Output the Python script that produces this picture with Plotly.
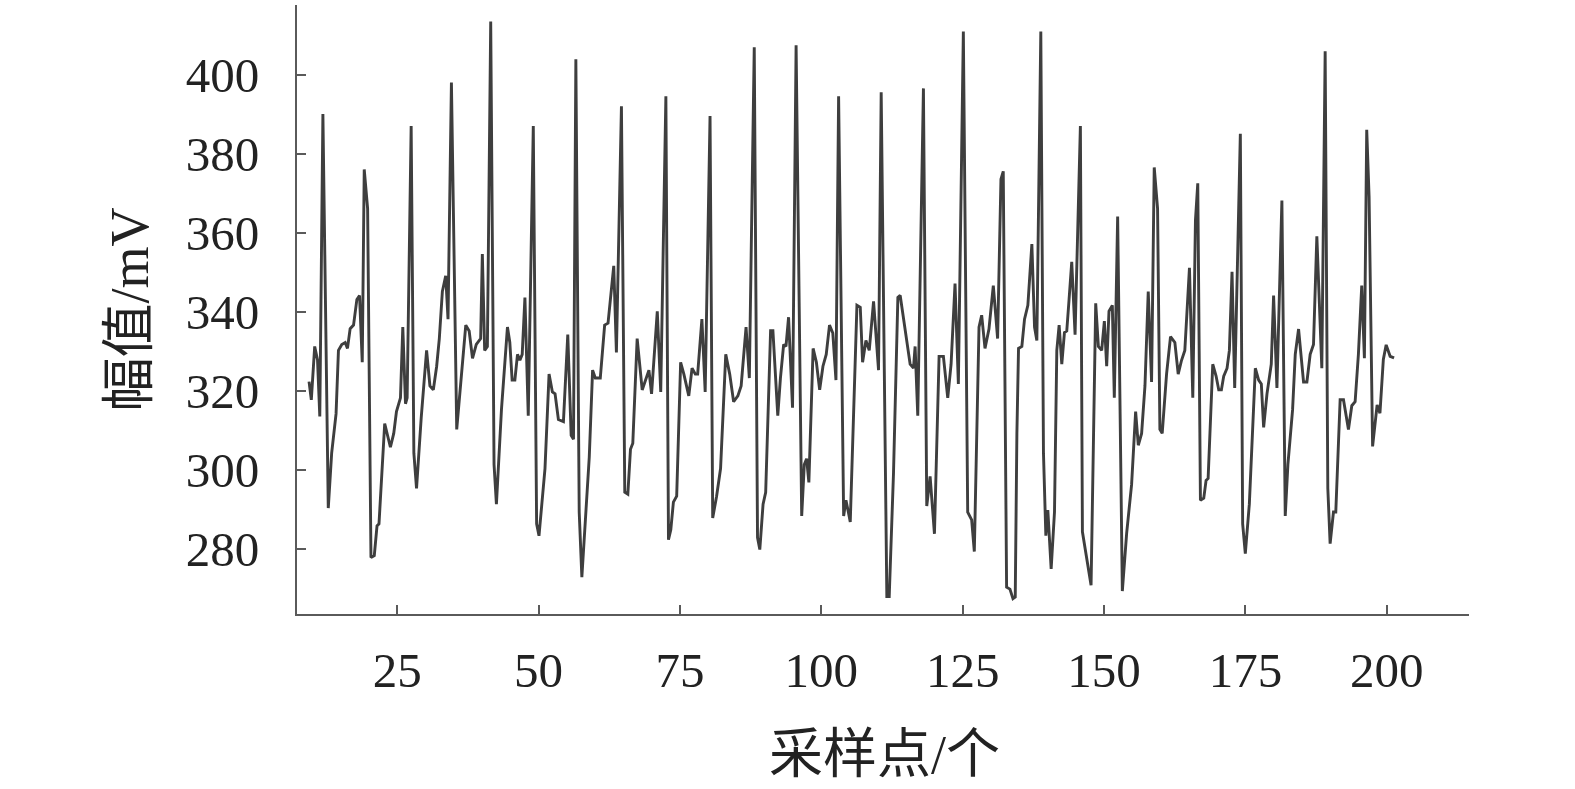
import plotly.graph_objects as go

# Sample index (x) and amplitude in mV (y)
sample_x = [
    9.4, 9.8, 10.4, 10.9, 11.3, 11.85, 12.8, 13.4, 14.18, 14.6, 15.19, 15.79, 16.2, 16.67, 17.27,
    17.86, 18.33, 18.81, 19.16, 19.76, 20.35, 20.94, 21.42, 21.77, 22.78, 23.79, 24.38, 24.86,
    25.57, 25.98, 26.46, 26.75, 27.46, 27.94, 28.41, 29.24, 30.19, 30.78, 31.38, 31.97, 32.44,
    32.98, 33.57, 33.98, 34.58, 35.52, 35.94, 37.12, 37.72, 38.31,
    38.98, 39.75, 40.05, 40.46, 40.94, 41.53, 42.12, 42.54, 43.43, 44.49, 44.91, 45.32, 45.8,
    46.27, 46.69, 47.1, 47.58, 48.17, 49.06, 49.65, 50.07, 51.13, 51.85, 52.44, 52.91, 53.5,
    54.39, 55.16, 55.76, 56.17, 56.59, 57.18, 57.65, 58.13, 58.96, 59.55, 60.03, 60.91, 61.68,
    62.28, 63.29, 63.76, 64.65, 65.24, 65.78, 66.25, 66.66, 67.43, 68.32, 68.92, 69.51, 69.98,
    70.99,
    71.6, 72.51, 72.97, 73.38, 73.84, 74.42, 75.12, 75.69, 76.56, 77.14, 77.72, 78.13, 78.88,
    79.46, 80.32, 80.79, 81.48, 82.18, 83.1, 83.8, 84.49, 85.24, 85.82, 86.69, 87.27, 88.14,
    88.72, 89.12, 89.7, 90.16, 91.03, 91.44, 92.3, 92.77, 93.34, 93.75, 94.21, 94.91, 95.54,
    96.53, 96.99, 97.4, 97.8, 98.55, 99.13, 99.71, 100.29, 100.87, 101.45, 102.03,
    102.59, 103.06, 103.95, 104.36, 104.71, 105.12, 106.3, 106.89, 107.3, 107.89, 108.48,
    109.24, 110.12, 110.59, 111.59, 112.01, 112.77, 113.54, 113.95, 114.71, 115.71, 116.3,
    116.59, 117.06, 118.06, 118.65, 119.24, 120.01, 120.83, 121.59, 122.36, 122.95, 123.65,
    124.24, 125.12, 125.89, 126.59, 127.06, 127.89, 128.36, 128.95, 129.65, 130.42, 131.18,
    131.77, 132.18, 132.77, 133.36,
    133.9, 134.3, 134.59, 134.88, 135.47, 135.94, 136.53, 137.24, 137.71, 138.12, 138.82,
    139.29, 139.71, 140.06, 140.65, 141.24, 141.65, 142.06, 142.53, 143.0, 143.41, 143.82,
    144.29, 144.88, 145.82, 146.18, 146.94, 147.71, 148.53, 149.0, 149.59, 150.06, 150.47,
    150.88, 151.47, 151.82, 152.41, 153.24, 154.0, 154.88, 155.59, 156.06, 156.65, 157.24,
    157.82, 158.41, 158.88, 159.47, 159.88, 160.29, 161.06, 161.76, 162.53, 163.12, 163.71,
    164.29,
    165.11, 165.7, 166.17, 166.58, 167.05, 167.64, 168.05, 168.41, 169.23, 169.82, 170.29,
    170.76, 171.17, 171.76, 172.17, 172.64, 173.11, 174.11, 174.52, 174.99, 175.7, 176.76,
    177.35, 177.82, 178.23, 178.82, 179.58, 179.99, 180.58, 181.46, 182.05, 182.52, 183.35,
    183.82, 184.41, 185.29, 185.88, 186.46, 187.05, 187.64, 188.52, 189.11, 189.58, 189.99,
    190.58, 190.99, 191.76, 192.35, 193.23, 193.82, 194.41, 194.99, 195.58, 196.05, 196.46,
    196.88, 197.5, 198.3, 198.8, 199.4, 199.9, 200.6, 201.3,
]
amplitude_mv = [
    322.4, 317.8, 331.3, 327.9, 313.6, 390.1, 290.4, 304.3, 314.3, 330.3, 331.8, 332.3, 330.8, 335.8, 336.7,
    343.2, 344.2, 327.3, 376.1, 366.2, 277.9, 278.4, 285.9, 286.4, 311.8, 305.8, 309.3, 314.8,
    318.3, 336.2, 316.8, 318.3, 387.1, 304.3, 295.4, 313.3, 330.3, 321.3, 320.3, 326.3, 333.3,
    345.2, 349.2, 338.2, 398.1, 310.3, 317.3, 336.7, 335.2, 328.3,
    331.8, 333.3, 354.7, 330.3, 331.3, 413.5, 301.4, 291.4, 315.3, 336.2, 332.3, 322.8, 322.8,
    329.3, 327.8, 329.3, 343.7, 313.8, 387.1, 286.4, 283.4, 300.4, 324.3, 319.8, 319.3, 312.8,
    312.3, 334.3, 308.8, 307.8, 404.0, 289.4, 272.9, 284.4, 303.3, 325.3, 323.3, 323.3, 336.7,
    337.2, 351.7, 329.8, 392.1, 294.4, 293.9, 305.3, 306.8, 333.3, 320.3, 322.8, 325.3, 319.3,
    340.2,
    319.8, 394.6, 282.4, 284.9, 291.9, 293.4, 327.3, 324.3, 318.8, 325.8, 324.3, 324.3, 338.2,
    319.8, 389.6, 287.9, 293.4, 300.4, 329.3, 324.3, 317.3, 318.8, 321.3, 336.2, 323.3, 407.0,
    282.9, 279.9, 291.4, 294.4, 335.3, 335.3, 313.8, 323.3, 331.8, 331.3, 338.7, 315.8, 407.5,
    288.4, 301.4, 302.9, 296.9, 330.8, 327.3, 320.3, 326.3, 329.3, 336.7, 334.7,
    322.8, 394.6, 288.4, 292.4, 289.9, 286.9, 341.7, 341.2, 327.3, 332.8, 330.3,
    342.7, 325.3, 395.6, 268.0, 268.0, 299.4, 343.7, 344.2, 336.2, 326.8, 325.8,
    331.3, 313.8, 396.6, 290.9, 298.4, 283.9, 328.8, 328.8, 318.3, 326.8, 347.2,
    321.8, 411.0, 289.4, 287.4, 279.4, 336.2, 339.2, 330.8, 335.7, 346.7, 333.3,
    373.6, 375.6, 270.4, 269.9,
    267.5, 267.9, 309.3, 330.8, 331.3, 338.2, 341.7, 357.2, 336.2, 332.8, 411.0,
    304.3, 283.4, 289.9, 275.0, 289.4, 330.3, 336.7, 326.8, 334.8, 335.2, 343.2,
    352.7, 334.3, 387.1, 284.4, 277.4, 270.9, 342.2, 331.3, 330.3, 337.7, 326.3,
    340.2, 341.7, 318.3, 364.2, 269.4, 284.0, 296.4, 314.8, 306.3, 309.3, 321.3,
    345.2, 322.3, 376.6, 366.2, 310.3, 309.3, 324.3, 333.8, 332.3, 324.3, 327.8,
    330.3,
    351.2, 318.3, 363.2, 372.6, 292.4, 292.9, 297.4, 297.9, 326.8, 323.8, 320.3,
    320.3, 323.8, 325.8, 330.3, 350.2, 320.8, 385.1, 286.4, 278.9, 291.4, 325.8,
    322.8, 321.8, 310.8, 319.3, 326.8, 344.2, 320.8, 368.2, 288.4, 301.4, 315.3,
    329.3, 335.7, 322.3, 322.3, 329.3, 331.8, 359.2, 325.8, 406.0, 295.4, 281.4,
    289.4, 289.4, 317.8, 317.8, 310.3, 316.3, 317.3, 329.3, 346.7, 328.3, 386.1,
    369.2, 306.0, 316.5, 314.4, 328.0, 331.7, 328.8, 328.4,
]

x_ticks = [25, 50, 75, 100, 125, 150, 175, 200]
y_ticks = [280, 300, 320, 340, 360, 380, 400]
x_title = "采样点/个"
y_title = "幅值/mV"

FONT = "Liberation Serif, Times New Roman, Noto Sans CJK SC, serif"
AXIS_COLOR = "#5a5a5a"

fig = go.Figure()
fig.add_trace(go.Scatter(
    x=sample_x, y=amplitude_mv, mode="lines",
    line=dict(color="#3e3e3e", width=2.9),
    showlegend=False, hoverinfo="skip",
))

fig.update_layout(
    width=1575, height=789,
    margin=dict(l=297, r=106, t=5, b=175),
    paper_bgcolor="white", plot_bgcolor="white",
    font=dict(family=FONT, color="#222222"),
    xaxis=dict(
        range=[7.27, 214.55], tickvals=x_ticks, ticktext=[str(v) for v in x_ticks],
        showgrid=False, zeroline=False, showline=True, linecolor=AXIS_COLOR, linewidth=2,
        ticks="inside", ticklen=9, tickwidth=2, tickcolor=AXIS_COLOR,
        tickfont=dict(family=FONT, size=49, color="#222222"), ticklabelstandoff=12,
    ),
    yaxis=dict(
        range=[263.6, 417.7], tickvals=y_ticks, ticktext=[str(v) for v in y_ticks],
        showgrid=False, zeroline=False, showline=True, linecolor=AXIS_COLOR, linewidth=2,
        ticks="inside", ticklen=9, tickwidth=2, tickcolor=AXIS_COLOR,
        tickfont=dict(family=FONT, size=49, color="#222222"), ticklabelstandoff=26,
    ),
    annotations=[
        dict(text=x_title, xref="paper", yref="paper", x=0.5009, y=-0.232,
             xanchor="center", yanchor="middle", showarrow=False,
             font=dict(family=FONT, size=54, color="#222222")),
        dict(text=y_title, xref="paper", yref="paper", x=-0.1425, y=0.50,
             xanchor="center", yanchor="middle", textangle=-90, showarrow=False,
             font=dict(family=FONT, size=54, color="#222222")),
    ],
)

fig.write_html("out.html", config={"displayModeBar": False},
               post_script="document.body.style.margin='0px';")
